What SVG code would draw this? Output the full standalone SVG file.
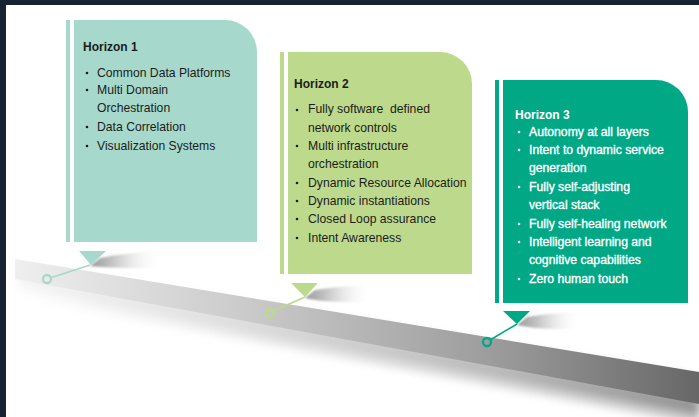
<svg xmlns="http://www.w3.org/2000/svg" width="699" height="417" viewBox="0 0 699 417">
<defs>
<linearGradient id="band" x1="15" y1="0" x2="699" y2="0" gradientUnits="userSpaceOnUse">
<stop offset="0" stop-color="#efefef"/>
<stop offset="0.35" stop-color="#c9c9c9"/>
<stop offset="0.7" stop-color="#9c9c9c"/>
<stop offset="1" stop-color="#676767"/>
</linearGradient>
<linearGradient id="shade" x1="15" y1="0" x2="699" y2="0" gradientUnits="userSpaceOnUse">
<stop offset="0" stop-color="#ffffff"/>
<stop offset="0.4" stop-color="#dedede"/>
<stop offset="1" stop-color="#b8b8b8"/>
</linearGradient>
<linearGradient id="wedge" x1="0" y1="0" x2="1" y2="0">
<stop offset="0" stop-color="#9a9a9a"/>
<stop offset="0.3" stop-color="#c2c2c2"/>
<stop offset="1" stop-color="#ffffff" stop-opacity="0"/>
</linearGradient>
<filter id="blur" x="-10%" y="-50%" width="120%" height="200%"><feGaussianBlur stdDeviation="4"/></filter>
<filter id="blur2" x="-20%" y="-50%" width="140%" height="200%"><feGaussianBlur stdDeviation="1"/></filter>
<style>
.t{font-family:"Liberation Sans",Arial,sans-serif;font-size:12.2px;fill:#1c1c1c}
.h{font-family:"Liberation Sans",Arial,sans-serif;font-size:12px;font-weight:bold;fill:#1c1c1c}
.w{fill:#ffffff}
.tw{fill:#ffffff;stroke:#ffffff;stroke-width:0.35}
.c1{fill:#a6d9cb}.c2{fill:#bcd98c}.c3{fill:#00a886}
</style>
</defs>
<rect width="699" height="417" fill="#172232"/>
<rect x="6" y="5" width="693" height="412" fill="#ffffff"/>

<!-- band -->
<g id="band-shape">
<polygon points="20,284 699,404 699,424 20,298" fill="url(#shade)" opacity="0.8" filter="url(#blur)"/>
<polygon points="18,266 699,378 699,414 18,288" fill="url(#band)" opacity="0.6" filter="url(#blur)"/>
<polygon points="15,259 699,372 699,404 15,279" fill="url(#band)"/>
</g>

<!-- wedges -->
<path d="M90,266 L100,258 C120,254 140,252 162,251 L162,268 C130,268 110,268 90,266 Z" fill="url(#wedge)" filter="url(#blur2)"/>
<path d="M305,298 L315,290 C335,287 350,286 372,285 L372,302 C340,302 320,302 305,298 Z" fill="url(#wedge)" filter="url(#blur2)"/>
<path d="M517,325 L527,317 C545,314 560,313 582,312 L582,329 C550,329 535,329 517,325 Z" fill="url(#wedge)" filter="url(#blur2)"/>

<g id="connectors">
<line x1="50" y1="278" x2="90" y2="265" stroke="#a6d9cb" stroke-width="1.6"/>
<line x1="273" y1="311" x2="305" y2="297" stroke="#bcd98c" stroke-width="1.6"/>
<line x1="490" y1="340" x2="517" y2="324" stroke="#00a886" stroke-width="1.6"/>
<circle cx="47" cy="279" r="4" fill="none" stroke="#a6d9cb" stroke-width="2.3"/>
<circle cx="270" cy="313" r="4" fill="none" stroke="#bcd98c" stroke-width="2.3"/>
<circle cx="487" cy="342" r="4" fill="none" stroke="#00a886" stroke-width="2.3"/>
</g>

<g id="horizon1">
<rect class="c1" x="66" y="20" width="4" height="222"/>
<path class="c1" d="M74,20 H225 A32,32 0 0 1 257,52 V242 H74 Z"/>
<polygon class="c1" points="79,251 106,251 91,265"/>
<text class="h" x="83" y="51">Horizon 1</text>
<circle cx="87" cy="73" r="1.3" fill="#1c1c1c"/>
<circle cx="87" cy="90" r="1.3" fill="#1c1c1c"/>
<circle cx="87" cy="127" r="1.3" fill="#1c1c1c"/>
<circle cx="87" cy="146" r="1.3" fill="#1c1c1c"/>
<text class="t" x="97" y="77">Common Data Platforms</text>
<text class="t" x="97" y="94">Multi Domain</text>
<text class="t" x="97" y="112">Orchestration</text>
<text class="t" x="97" y="131">Data Correlation</text>
<text class="t" x="97" y="150">Visualization Systems</text>
</g>

<g id="horizon2">
<rect class="c2" x="280" y="52" width="4" height="222"/>
<path class="c2" d="M288,52 H440 A32,32 0 0 1 472,84 V274 H288 Z"/>
<polygon class="c2" points="291,283 318,283 305,297"/>
<text class="h" x="294" y="88">Horizon 2</text>
<circle cx="297" cy="110" r="1.3" fill="#1c1c1c"/>
<circle cx="297" cy="146" r="1.3" fill="#1c1c1c"/>
<circle cx="297" cy="183" r="1.3" fill="#1c1c1c"/>
<circle cx="297" cy="201" r="1.3" fill="#1c1c1c"/>
<circle cx="297" cy="219" r="1.3" fill="#1c1c1c"/>
<circle cx="297" cy="238" r="1.3" fill="#1c1c1c"/>
<text class="t" x="308" y="113" xml:space="preserve">Fully software  defined</text>
<text class="t" x="308" y="132">network controls</text>
<text class="t" x="308" y="150">Multi infrastructure</text>
<text class="t" x="308" y="168">orchestration</text>
<text class="t" x="308" y="187">Dynamic Resource Allocation</text>
<text class="t" x="308" y="205">Dynamic instantiations</text>
<text class="t" x="308" y="223">Closed Loop assurance</text>
<text class="t" x="308" y="242">Intent Awareness</text>
</g>

<g id="horizon3">
<rect class="c3" x="495" y="80" width="4" height="223"/>
<path class="c3" d="M503,80 H656 A32,32 0 0 1 688,112 V303 H503 Z"/>
<polygon class="c3" points="503,311 530,311 517,324"/>
<text class="h w" x="515" y="119">Horizon 3</text>
<circle cx="519" cy="132" r="1.3" fill="#ffffff"/>
<circle cx="519" cy="150" r="1.3" fill="#ffffff"/>
<circle cx="519" cy="187" r="1.3" fill="#ffffff"/>
<circle cx="519" cy="224" r="1.3" fill="#ffffff"/>
<circle cx="519" cy="242" r="1.3" fill="#ffffff"/>
<circle cx="519" cy="279" r="1.3" fill="#ffffff"/>
<text class="t tw" x="529" y="136">Autonomy at all layers</text>
<text class="t tw" x="529" y="154">Intent to dynamic service</text>
<text class="t tw" x="529" y="172">generation</text>
<text class="t tw" x="529" y="191">Fully self-adjusting</text>
<text class="t tw" x="529" y="209">vertical stack</text>
<text class="t tw" x="529" y="228">Fully self-healing network</text>
<text class="t tw" x="529" y="246">Intelligent learning and</text>
<text class="t tw" x="529" y="264">cognitive capabilities</text>
<text class="t tw" x="529" y="283">Zero human touch</text>
</g>
</svg>
